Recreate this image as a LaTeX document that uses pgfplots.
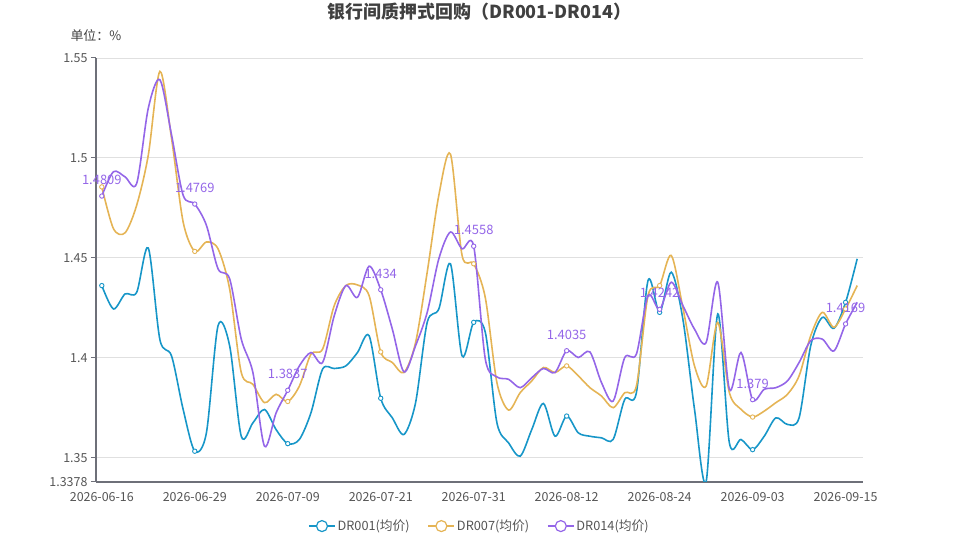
\documentclass[border=0pt]{standalone}
\usepackage{fontspec}
\setmainfont{Noto Sans CJK SC}
\usepackage{pgfplots}
\usepackage{pgfplotstable}
\pgfplotsset{compat=1.18}

\definecolor{cA}{HTML}{1796C8}
\definecolor{cB}{HTML}{E5B455}
\definecolor{cC}{HTML}{9466E8}
\definecolor{gridc}{HTML}{E0E0E0}
\definecolor{axc}{HTML}{6E7079}
\definecolor{tickc}{HTML}{555555}
\definecolor{titlec}{HTML}{404040}

% index = trading day, 0 = 2026-06-16
\pgfplotstableread{
i dr001 dr007 dr014
0 1.4361 1.4855 1.4809
1 1.4244 1.4646 1.4931
2 1.4319 1.4625 1.4905
3 1.4327 1.4763 1.4872
4 1.4549 1.5014 1.5249
5 1.4090 1.5433 1.5391
6 1.4009 1.5098 1.5115
7 1.3741 1.4679 1.4813
8 1.3532 1.4532 1.4769
9 1.3624 1.4579 1.4663
10 1.4160 1.4545 1.4445
11 1.4060 1.4344 1.4395
12 1.3607 1.3926 1.4093
13 1.3674 1.3867 1.3926
14 1.3741 1.3775 1.3557
15 1.3640 1.3817 1.3724
16 1.3570 1.3781 1.3837
17 1.3591 1.3858 1.3959
18 1.3725 1.4018 1.4026
19 1.3943 1.4043 1.3976
20 1.3946 1.4261 1.4210
21 1.3959 1.4361 1.4361
22 1.4026 1.4364 1.4302
23 1.4110 1.4311 1.4458
24 1.3797 1.4029 1.4340
25 1.3699 1.3976 1.4143
26 1.3616 1.3926 1.3929
27 1.3775 1.4076 1.4060
28 1.4177 1.4428 1.4227
29 1.4244 1.4813 1.4495
30 1.4470 1.5019 1.4629
31 1.4009 1.4512 1.4545
32 1.4177 1.4470 1.4558
33 1.4127 1.4300 1.3993
34 1.3674 1.3875 1.3904
35 1.3574 1.3738 1.3892
36 1.3507 1.3825 1.3850
37 1.3641 1.3884 1.3900
38 1.3771 1.3951 1.3946
39 1.3607 1.3926 1.3926
40 1.3708 1.3959 1.4035
41 1.3624 1.3909 1.4001
42 1.3607 1.3850 1.4029
43 1.3599 1.3808 1.3875
44 1.3591 1.3750 1.3783
45 1.3792 1.3825 1.4001
46 1.3825 1.3858 1.4018
47 1.4386 1.4311 1.4311
48 1.4227 1.4361 1.4242
49 1.4428 1.4512 1.4378
50 1.4193 1.4250 1.4261
51 1.3742 1.3959 1.4143
52 1.3380 1.3858 1.4076
53 1.4219 1.4177 1.4378
54 1.3574 1.3825 1.3842
55 1.3591 1.3742 1.4026
56 1.3540 1.3703 1.3790
57 1.3607 1.3733 1.3842
58 1.3699 1.3775 1.3850
59 1.3666 1.3817 1.3884
60 1.3699 1.3909 1.3976
61 1.4060 1.4110 1.4085
62 1.4202 1.4227 1.4093
63 1.4147 1.4152 1.4034
64 1.4277 1.4244 1.4169
65 1.4495 1.4361 1.4277
}\rates

\begin{document}
\begin{tikzpicture}[x=1bp,y=1bp]
\begin{axis}[
  scale only axis, width=767bp, height=424bp,
  xmin=-0.5, xmax=65.5, ymin=1.3378, ymax=1.55,
  axis lines*=left,
  axis line style={axc, line width=1.2bp},
  ytick={1.3378,1.35,1.4,1.45,1.5,1.55},
  yticklabels={1.3378,1.35,1.4,1.45,1.5,1.55},
  ymajorgrids, grid style={gridc, line width=0.8bp},
  xtick={0,8,...,64},
  xticklabels={2026-06-16,2026-06-29,2026-07-09,2026-07-21,2026-07-31,2026-08-12,2026-08-24,2026-09-03,2026-09-15},
  x tick style={draw=none},
  extra x ticks={-0.5,7.5,15.5,23.5,31.5,39.5,47.5,55.5,63.5,65.5},
  extra x tick labels={},
  extra x tick style={major tick length=5bp, tick style={draw=axc, line width=1bp}},
  y tick style={axc, line width=1bp},
  tick align=outside, major tick length=5bp,
  /pgf/number format/assume math mode=true,
  ticklabel style={font=\fontsize{12.5}{14}\selectfont, text=tickc},
  xticklabel style={yshift=-2bp},
  legend style={at={(0.5,-0.104)}, anchor=center, legend columns=3, draw=none,
    font=\fontsize{12.8}{14}\selectfont, text=tickc,
    /tikz/every even column/.append style={column sep=16bp}},
  legend image code/.code={
    \draw[#1, mark=none, line width=1.2bp] (0bp,0bp) -- (26bp,0bp);
    \draw[#1, mark=none, line width=1.2bp, fill=white] (13bp,0bp) circle (5.5bp);},
  every axis plot/.append style={line width=1.6bp, smooth, tension=0.5,
    mark=*, mark repeat=8, mark size=2.2bp},
]
\addplot[cA, mark options={fill=white, draw=cA, line width=0.9bp}] table[x=i, y=dr001] {\rates};
\addlegendentry{DR001(均价)}
\addplot[cB, mark options={fill=white, draw=cB, line width=0.9bp}] table[x=i, y=dr007] {\rates};
\addlegendentry{DR007(均价)}
\addplot[cC, mark options={fill=white, draw=cC, line width=0.9bp}] table[x=i, y=dr014] {\rates};
\addlegendentry{DR014(均价)}
\addplot[forget plot, draw=none, mark=none, mark repeat=1, nodes near coords, point meta=explicit symbolic,
  nodes near coords style={anchor=center, yshift=16bp, font=\fontsize{13}{15}\selectfont, text=cC}]
  coordinates {(0,1.4809)[1.4809] (8,1.4769)[1.4769] (16,1.3837)[1.3837] (24,1.434)[1.434]
  (32,1.4558)[1.4558] (40,1.4035)[1.4035] (48,1.4242)[1.4242] (56,1.379)[1.379] (64,1.4169)[1.4169]};
\coordinate (O) at (rel axis cs:0,0);
\end{axis}
\node[font=\fontsize{18}{21}\selectfont\bfseries, text=titlec] at ([shift={(383.5,470)}]O) {银行间质押式回购（DR001-DR014）};
\node[anchor=west, font=\fontsize{13}{15}\selectfont, text=titlec] at ([shift={(-29,446)}]O) {单位：\%};
\pgfresetboundingbox
\path[use as bounding box] (O) ++(-96,-58) rectangle ++(959,540);
\end{tikzpicture}
\end{document}
